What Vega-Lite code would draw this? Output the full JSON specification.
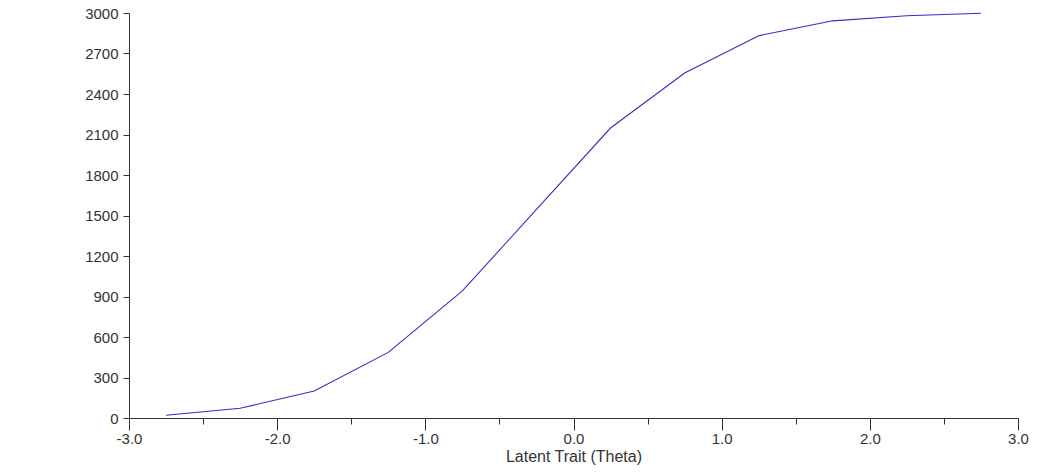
{
  "$schema": "https://vega.github.io/schema/vega-lite/v6.json",
  "autosize": "none",
  "width": 889,
  "height": 405,
  "padding": {"left": 129, "top": 13, "right": 19, "bottom": 57},
  "background": "white",
  "config": {
    "view": {"stroke": null},
    "axis": {
      "labelFont": "Liberation Sans",
      "titleFont": "Liberation Sans",
      "labelFontSize": 15,
      "titleFontSize": 16,
      "titleFontWeight": "normal",
      "labelColor": "#333333",
      "titleColor": "#333333",
      "domainColor": "#333333",
      "tickColor": "#333333",
      "grid": false
    }
  },
  "data": {
    "values": [
      {"theta": -2.75, "score": 20},
      {"theta": -2.25, "score": 72},
      {"theta": -1.75, "score": 200},
      {"theta": -1.25, "score": 486},
      {"theta": -0.75, "score": 941},
      {"theta": -0.25, "score": 1545},
      {"theta": 0.25, "score": 2148},
      {"theta": 0.75, "score": 2556},
      {"theta": 1.25, "score": 2832},
      {"theta": 1.75, "score": 2942},
      {"theta": 2.25, "score": 2980},
      {"theta": 2.75, "score": 2998}
    ]
  },
  "layer": [
    {
      "mark": {"type": "line", "color": "#3030bf", "strokeWidth": 1.1},
      "encoding": {
        "x": {
          "field": "theta",
          "type": "quantitative",
          "scale": {"domain": [-3, 3], "nice": false, "zero": false},
          "axis": {
            "orient": "bottom",
            "title": "Latent Trait (Theta)",
            "values": [-3, -2, -1, 0, 1, 2, 3],
            "labelExpr": "(datum.value < 0 ? '-' : '') + format(abs(datum.value), '.1f')",
            "tickSize": 12,
            "labelPadding": 1,
            "titlePadding": 2,
            "labelFlush": false,
            "labelOverlap": false
          }
        },
        "y": {
          "field": "score",
          "type": "quantitative",
          "scale": {"domain": [0, 3000], "nice": false},
          "axis": {
            "title": null,
            "values": [0, 300, 600, 900, 1200, 1500, 1800, 2100, 2400, 2700, 3000],
            "format": "d",
            "tickSize": 6,
            "labelPadding": 5,
            "labelFlush": false,
            "labelOverlap": false
          }
        }
      }
    },
    {
      "mark": {"type": "line", "opacity": 0},
      "encoding": {
        "x": {
          "field": "theta",
          "type": "quantitative",
          "axis": {
            "orient": "bottom",
            "title": null,
            "values": [-2.5, -1.5, -0.5, 0.5, 1.5, 2.5],
            "labels": false,
            "domain": false,
            "tickSize": 6
          }
        },
        "y": {"field": "score", "type": "quantitative"}
      }
    }
  ],
  "resolve": {"axis": {"x": "independent"}}
}
